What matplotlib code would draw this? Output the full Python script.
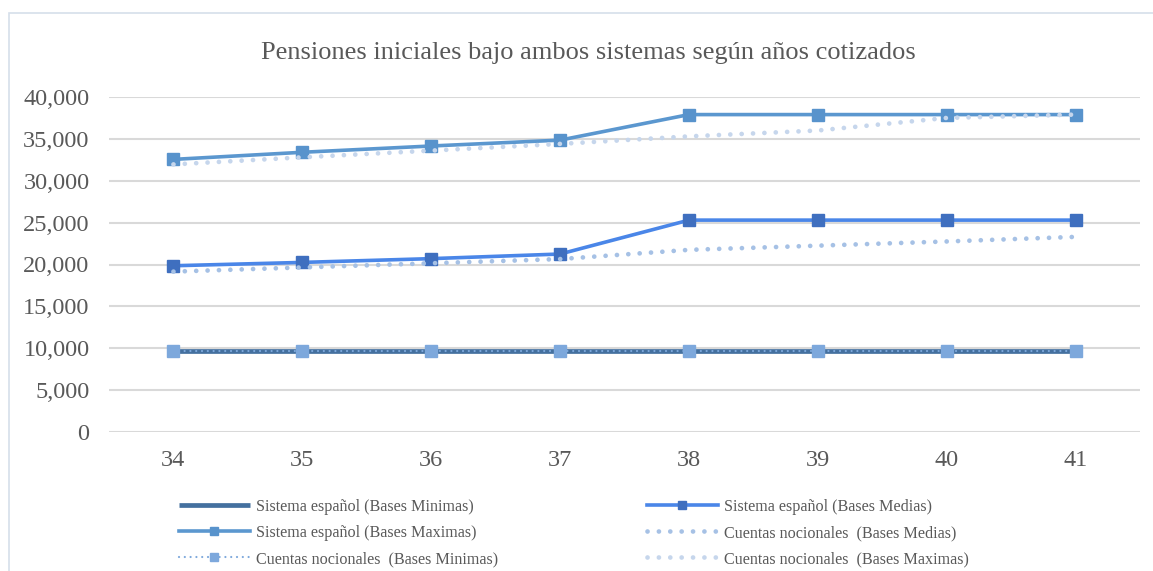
import matplotlib.pyplot as plt
from matplotlib.patches import Rectangle
from matplotlib.ticker import FuncFormatter

# años cotizados
years = [34, 35, 36, 37, 38, 39, 40, 41]

# pensiones iniciales
sist_min = [9700, 9700, 9700, 9700, 9700, 9700, 9700, 9700]
sist_med = [19850, 20250, 20700, 21250, 25300, 25300, 25300, 25300]
sist_max = [32550, 33400, 34150, 34850, 37900, 37900, 37900, 37900]
cn_min = [9700, 9700, 9700, 9700, 9700, 9700, 9700, 9700]
cn_med = [19150, 19650, 20150, 20650, 21750, 22250, 22750, 23300]
cn_max = [31950, 32800, 33600, 34400, 35300, 36000, 37500, 37900]

plt.rcParams['font.family'] = ['Liberation Serif', 'DejaVu Serif']

fig = plt.figure(figsize=(11.53, 5.71), dpi=100)
ax = fig.add_axes([109 / 1153, 1 - 432 / 571, 1031 / 1153, 335 / 571])

# marco del grafico
fig.patches.append(Rectangle((9 / 1153, -0.1), 1.2, 1 - 13 / 571 + 0.1,
                             transform=fig.transFigure, fill=False,
                             edgecolor='#D6DFEA', linewidth=1.2))

dots = (0, (0.01, 2.4))

ax.plot(years, sist_min, color='#44709F', lw=3.4, solid_capstyle='butt',
        label='Sistema español (Bases Minimas)', zorder=3)
ax.plot(years, sist_med, color='#4A86E8', lw=2.6, marker='s', ms=8,
        mfc='#3F6FBF', mec='#3F6FBF', label='Sistema español (Bases Medias)', zorder=3)
ax.plot(years, sist_max, color='#5B97CF', lw=2.6, marker='s', ms=8,
        mfc='#5893CC', mec='#5893CC', label='Sistema español (Bases Maximas)', zorder=3)
ax.plot(years, cn_min, color='#7DA8DC', lw=1.6, linestyle=(0, (0.01, 2.6)),
        dash_capstyle='round', marker='s', ms=8, mfc='#7DA8DC', mec='#7DA8DC',
        label='Cuentas nocionales  (Bases Minimas)', zorder=4)
ax.plot(years, cn_med, color='#A6C1E5', lw=3.4, linestyle=dots,
        dash_capstyle='round', label='Cuentas nocionales  (Bases Medias)', zorder=4)
ax.plot(years, cn_max, color='#C6D6EC', lw=3.4, linestyle=dots,
        dash_capstyle='round', label='Cuentas nocionales  (Bases Maximas)', zorder=4)

ax.set_xlim(33.5, 41.5)
ax.set_ylim(0, 40000)
ax.set_xticks(years)
ax.set_yticks(range(0, 40001, 5000))
ax.yaxis.set_major_formatter(FuncFormatter(lambda v, p: f'{int(v):,}'))
ax.grid(axis='y', color='#D9D9D9', lw=1.5, zorder=0)
ax.set_axisbelow(True)
for s in ax.spines.values():
    s.set_visible(False)
ax.tick_params(length=0, labelsize=17.5, colors='#595959')
ax.tick_params(axis='y', pad=14)
ax.tick_params(axis='x', pad=13)

fig.text(588 / 1153, 1 - 53 / 571, 'Pensiones iniciales bajo ambos sistemas según años cotizados',
         ha='center', va='center', fontsize=19, color='#595959')

h, l = ax.get_legend_handles_labels()
order = [0, 2, 3, 1, 4, 5]
leg = fig.legend([h[i] for i in order], [l[i] for i in order], ncol=2,
                 loc='center left', bbox_to_anchor=(179 / 1153, 1 - 533 / 571),
                 frameon=False, fontsize=11.6, labelcolor='#595959',
                 handlelength=4.4, handletextpad=0.4, columnspacing=9.2,
                 labelspacing=0.62, borderaxespad=0, borderpad=0, markerscale=0.8)

fig.savefig('out.png', dpi=100, facecolor='white')
